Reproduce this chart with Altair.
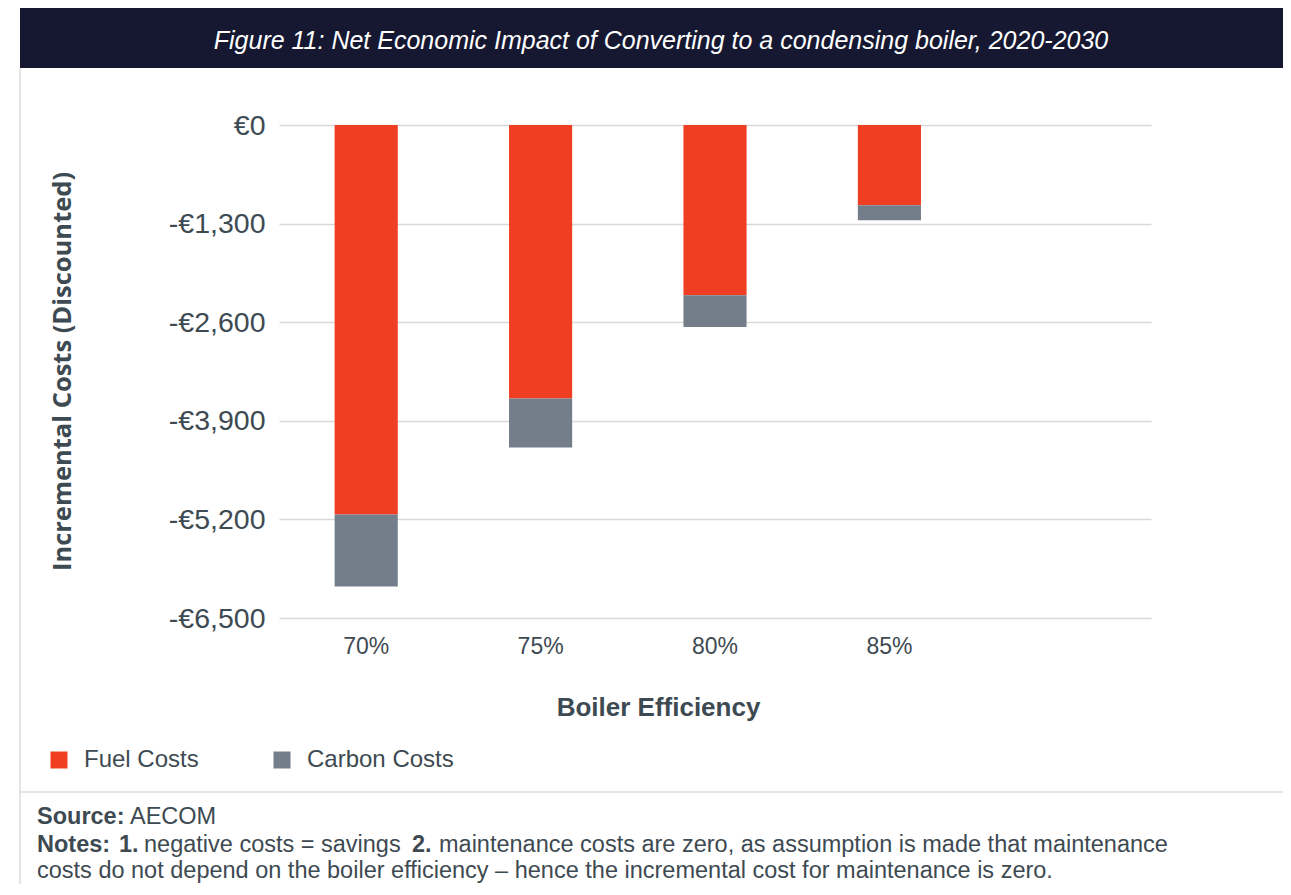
import altair as alt
import pandas as pd

categories = ["70%", "75%", "80%", "85%"]
fuel_costs = [-5135, -3605, -2246, -1059]
carbon_costs = [-950, -646, -418, -198]
series = ["Fuel Costs", "Carbon Costs"]
series_colors = ["#F03E23", "#747E8A"]
y_ticks = [0, -1300, -2600, -3900, -5200, -6500]

title_text = "Figure 11: Net Economic Impact of Converting to a condensing boiler, 2020-2030"
y_title = "Incremental Costs (Discounted)"
x_title = "Boiler Efficiency"
note_line3 = "costs do not depend on the boiler efficiency \u2013 hence the incremental cost for maintenance is zero."

rows = []
for c, f, cb in zip(categories, fuel_costs, carbon_costs):
    rows.append({"cat": c, "series": series[0], "value": f, "ord": 0})
    rows.append({"cat": c, "series": series[1], "value": cb, "ord": 1})
df = pd.DataFrame(rows)

TEXT = "#3E4A52"
W, H = 872, 493

bars = alt.Chart(df).mark_bar().encode(
    x=alt.X("cat:N",
            scale=alt.Scale(domain=categories + [""], paddingInner=0.638, paddingOuter=0.319),
            axis=alt.Axis(title=x_title, labelAngle=0, domain=False, ticks=False,
                          labelPadding=17, labelFontSize=23, labelColor=TEXT,
                          labelFont="Liberation Sans",
                          titleFont="Liberation Sans", titleFontSize=26, titleFontWeight="bold",
                          titleColor=TEXT, titleX=379, titleY=89, titleBaseline="middle",
                          titleAlign="center")),
    y=alt.Y("value:Q", stack="zero",
            scale=alt.Scale(domain=[-6500, 0], nice=False),
            axis=alt.Axis(title=y_title, values=y_ticks, domain=False, ticks=False,
                          labelExpr="datum.value == 0 ? '\u20ac0' : '-\u20ac' + format(abs(datum.value), ',')",
                          labelFontSize=28.5, labelColor=TEXT, labelFont="Liberation Sans",
                          labelPadding=14, gridColor="#D8D8D8", gridWidth=1.5,
                          titleFont="Open Sans", titleFontSize=25.5, titleFontWeight="bold",
                          titleColor=TEXT, titleX=-217, titleY=246, titleAngle=270,
                          titleAlign="center", titleBaseline="middle")),
    color=alt.Color("series:N", scale=alt.Scale(domain=series, range=series_colors),
                    legend=alt.Legend(title=None, orient="none", legendX=-232, legendY=623,
                                      direction="horizontal", symbolType="square",
                                      symbolSize=289, symbolStrokeWidth=0,
                                      labelFontSize=24, labelFont="Liberation Sans",
                                      labelColor=TEXT, labelOffset=13, columnPadding=71)),
    order=alt.Order("ord:Q"),
)

one = pd.DataFrame({"k": [0]})

banner = alt.Chart(one).mark_rect(color="#161832").encode(
    x=alt.value(-259), x2=alt.value(1012), y=alt.value(-117), y2=alt.value(-57))
title = alt.Chart(one).mark_text(text=title_text, color="white", fontSize=25, fontStyle="italic",
                                 font="Liberation Sans", align="center", baseline="middle").encode(
    x=alt.value(382), y=alt.value(-84))
vline = alt.Chart(one).mark_rule(color="#DCDCDC", strokeWidth=1.5).encode(
    x=alt.value(-259), y=alt.value(-57), y2=alt.value(770))
hline = alt.Chart(one).mark_rule(color="#DCDCDC", strokeWidth=1.5).encode(
    x=alt.value(-259), x2=alt.value(1012), y=alt.value(667))


def txt(s, x, y, bold=False):
    return alt.Chart(one).mark_text(text=s, color=TEXT, fontSize=23.5, font="Liberation Sans",
                                    fontWeight="bold" if bold else "normal",
                                    align="left", baseline="middle").encode(
        x=alt.value(x), y=alt.value(y))


notes = [
    txt("Source:", -242, 692, True),
    txt("AECOM", -149, 692),
    txt("Notes:", -242, 720, True),
    txt("1.", -160, 720, True),
    txt("negative costs = savings", -135, 720),
    txt("2.", 133, 720, True),
    txt("maintenance costs are zero, as assumption is made that maintenance", 160, 720),
    txt(note_line3, -242, 746),
]

chart = alt.layer(banner, title, vline, hline, bars, *notes).properties(
    width=W, height=H,
    padding={"left": 271, "top": 117, "right": 132, "bottom": 266},
    autosize=alt.AutoSizeParams(type="none"),
    background="white",
).configure_view(strokeWidth=0)

chart.save("out.html", embed_options={"renderer": "svg", "actions": False})
